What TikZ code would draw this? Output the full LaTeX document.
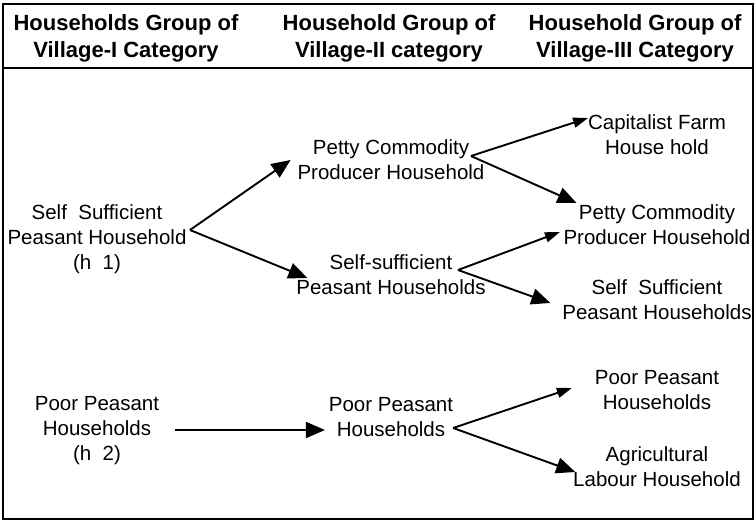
\documentclass[tikz,border=0pt]{standalone}
\usepackage{fontspec}
\setmainfont{Liberation Sans}
\usetikzlibrary{arrows.meta,calc}
\begin{document}
\begin{tikzpicture}[x=1pt,y=-1pt,
  txt/.style={align=center,inner sep=0pt,outer sep=2pt,font=\fontsize{20.5}{25}\selectfont},
  hdr/.style={align=center,inner sep=0pt,font=\fontsize{22}{27}\selectfont\bfseries},
  arr/.style={line width=1.9pt,-{Triangle[length=19pt,width=16pt]}},
  arrs/.style={line width=1.9pt,-{Triangle[length=15pt,width=10pt]}},
  frame/.style={line width=2pt}]
\useasboundingbox (0,0) rectangle (756,522);
\draw[frame] (3,4) rectangle (753,519);
\draw[frame] (3,68) -- (753,68);
\node[hdr] (h1) at (126,38.5) {Households Group of\\Village-I Category};
\node[hdr] (h2) at (389,38.5) {Household Group of\\Village-II category};
\node[hdr] (h3) at (635,38.5) {Household Group of\\Village-III Category};
\node[txt] (A) at (97,239) {Self\ \ Sufficient\\Peasant Household\\(h\ \ 1)};
\node[txt] (B) at (391,160) {Petty Commodity\\Producer Household};
\node[txt] (C) at (391,275) {Self-sufficient\\Peasant Households};
\node[txt] (D) at (657,134.5) {Capitalist Farm\\House hold};
\node[txt] (E) at (657,225) {Petty Commodity\\Producer Household};
\node[txt] (F) at (657,300) {Self\ \ Sufficient\\Peasant Households};
\node[txt] (G) at (97,431) {Poor Peasant\\Households\\(h\ \ 2)};
\node[txt] (H) at (391,417) {Poor Peasant\\Households};
\node[txt] (I) at (657,390.5) {Poor Peasant\\Households};
\node[txt] (J) at (657,466.5) {Agricultural\\Labour Household};
\coordinate (a0) at ($(A.east)+(1.5,-9)$);
\coordinate (b0) at ($(B.east)+(-15.5,-4)$);
\coordinate (c0) at ($(C.east)+(-29.6,-5)$);
\coordinate (h0) at ($(H.east)+(-2,11)$);
\draw[arr] (a0) -- ($(B.west)+(-5,0)$);
\draw[arr] (a0) -- ($(C.west)+(13,3)$);
\draw[arrs] (b0) -- ($(D.west)+(2,-16.5)$);
\draw[arr] (b0) -- ($(E.west)+(15,-22)$);
\draw[arrs] (c0) -- ($(E.west)+(-1.6,7)$);
\draw[arr] (c0) -- ($(F.west)+(-10,3)$);
\draw[arr] ($(G.east)+(14,-1)$) -- ($(H.west)+(-2,13)$);
\draw[arrs] (h0) -- ($(I.west)+(-21,-2.5)$);
\draw[arr] (h0) -- ($(J.west)+(4,5.5)$);
\end{tikzpicture}
\end{document}
